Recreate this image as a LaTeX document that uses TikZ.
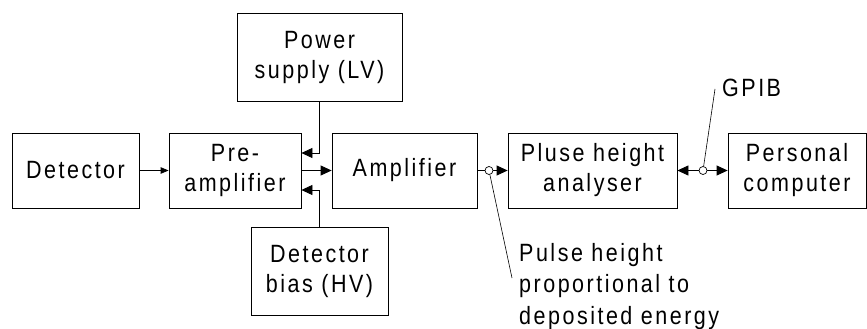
\documentclass[tikz,border=0pt]{standalone}
\usepackage{fontspec}
\setmainfont{Liberation Sans}[LetterSpace=10, FakeStretch=0.86]
\usetikzlibrary{arrows.meta,calc}
\tikzset{
  blk/.style={draw, line width=0.8pt, inner sep=0pt, align=center,
    font=\fontsize{25}{30}\selectfont},
  arr/.style={line width=0.8pt, -{Triangle[length=11pt,width=10pt]}},
  arrsmall/.style={line width=0.8pt, -{Triangle[length=8pt,width=6.5pt]}},
  arrtwo/.style={line width=0.8pt, {Triangle[length=11pt,width=10pt]}-{Triangle[length=11pt,width=10pt]}},
  tap/.style={circle, draw, fill=white, line width=0.7pt, inner sep=0pt, minimum size=8pt},
  lead/.style={line width=0.6pt},
  lbl/.style={inner sep=0pt, align=left, font=\fontsize{25}{31.5}\selectfont}
}
\begin{document}
\begin{tikzpicture}[x=1pt,y=-1pt]
\useasboundingbox (0,0) rectangle (867,329);
\node[blk, minimum width=127pt, minimum height=75pt] (det) at (75.5,170.5) {Detector};
\node[blk, minimum width=132pt, minimum height=75pt] (pre) at (235,170.5) {Pre-\\amplifier};
\node[blk, minimum width=145pt, minimum height=75pt] (amp) at (404.5,170.5) {Amplifier};
\node[blk, minimum width=169pt, minimum height=75pt] (pha) at (592.5,170.5) {Pluse height\\analyser};
\node[blk, minimum width=138pt, minimum height=75pt] (pc) at (797,170.5) {Personal\\computer};
\node[blk, minimum width=165pt, minimum height=88pt] (ps) at (319.5,57) {Power\\supply (LV)};
\node[blk, minimum width=137pt, minimum height=88pt] (hv) at (319.5,271) {Detector\\bias (HV)};

\draw[arrsmall] (det.east) -- (pre.west);
\draw[arr] (pre.east) -- (amp.west);
\draw[arr] (ps.south) |- ([yshift=17.5pt]pre.east);
\draw[arr] (hv.north) |- ([yshift=-19.5pt]pre.east);
\draw[arr] (amp.east) -- (pha.west);
\draw[arrtwo] (pha.east) -- (pc.west);

\node[tap] (c1) at (489,170.5) {};
\node[tap] (c2) at (703,170.5) {};
\coordinate (l1) at (512,278);
\coordinate (g1) at (715,89);
\draw[lead] (c1) -- (l1);
\draw[lead] (c2) -- (g1);
\node[lbl, anchor=west] (gpib) at (722,88) {GPIB};
\node[lbl, anchor=north west] (note) at (519,243) {Pulse height\\proportional to\\deposited energy};
\end{tikzpicture}
\end{document}
